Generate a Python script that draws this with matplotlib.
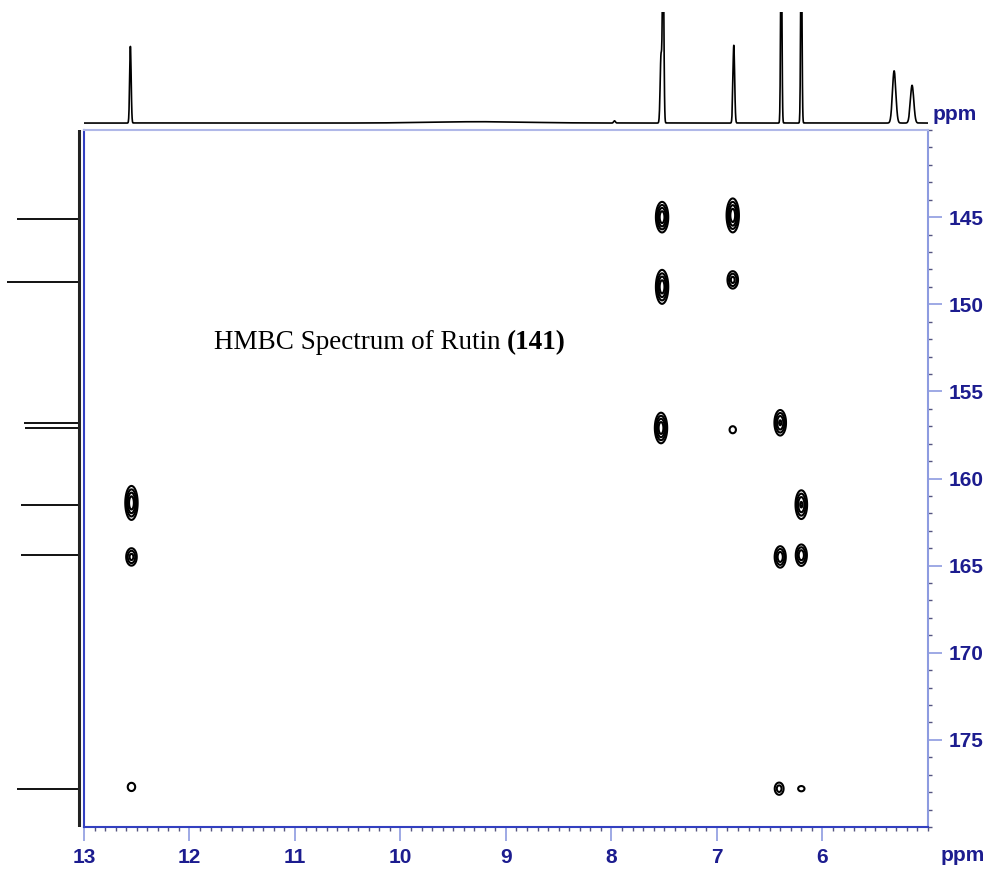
import matplotlib.pyplot as plt
import numpy as np

# 1H projection (top): peak position (ppm), height, half width
h1_pos = [12.56, 9.25, 7.97, 7.51, 7.53, 6.84, 6.39, 6.20, 5.32, 5.15]
h1_amp = [0.69, 0.012, 0.02, 1.6, 0.6, 0.70, 1.8, 1.8, 0.47, 0.34]
h1_wid = [0.007, 0.45, 0.008, 0.007, 0.008, 0.008, 0.006, 0.006, 0.016, 0.016]

# 13C projection (left): peak position (ppm), height
c13_pos = [145.1, 148.7, 156.8, 157.1, 161.5, 164.4, 177.8]
c13_amp = [0.78, 0.91, 0.70, 0.68, 0.73, 0.73, 0.78]

# HMBC cross peaks: 1H ppm, 13C ppm, intensity, spread along 13C
cross_h = [7.52, 6.85, 7.52, 6.85, 7.53, 6.85, 6.40, 6.20, 6.40, 6.20,
           12.55, 12.55, 12.55, 6.41, 6.20]
cross_c = [145.0, 144.9, 149.0, 148.6, 157.1, 157.2, 156.8, 161.5, 164.5, 164.4,
           161.4, 164.5, 177.7, 177.8, 177.8]
cross_i = [1.0, 1.0, 1.0, 0.6, 1.0, 0.25, 0.8, 0.8, 0.7, 0.7,
           1.0, 0.6, 0.3, 0.4, 0.25]
cross_s = [0.45, 0.5, 0.5, 0.3, 0.45, 0.2, 0.4, 0.45, 0.35, 0.35,
           0.5, 0.3, 0.2, 0.25, 0.15]

x_ticks = [13, 12, 11, 10, 9, 8, 7, 6]
y_ticks = [145, 150, 155, 160, 165, 170, 175]

navy = '#1c1c8f'
blue = '#3340c0'
light = '#8d9be0'

fig = plt.figure(figsize=(9.94, 8.71), dpi=100)
ax = fig.add_axes([0.0845, 0.0505, 0.849, 0.8002])
top = fig.add_axes([0.0845, 0.8507, 0.849, 0.1355], sharex=ax)
side = fig.add_axes([0.0, 0.0505, 0.0845, 0.8002], sharey=ax)

# contour map
hx = np.linspace(5, 13, 1601)
cy = np.linspace(140, 180, 801)
HX, CY = np.meshgrid(hx, cy)
Z = np.zeros_like(HX)
for h, c, a, s in zip(cross_h, cross_c, cross_i, cross_s):
    Z += a * np.exp(-((HX - h) / 0.03) ** 2 / 2 - ((CY - c) / s) ** 2 / 2)
ax.contour(HX, CY, Z, levels=[0.15, 0.3, 0.5, 0.75], colors='black', linewidths=1.5)

ax.set_xlim(13, 5)
ax.set_ylim(180, 140)
ax.yaxis.tick_right()
ax.set_xticks(x_ticks)
ax.set_yticks(y_ticks)
ax.set_xticks(np.arange(5, 13.01, 0.1), minor=True)
ax.set_yticks(np.arange(140, 180.1, 1), minor=True)
ax.tick_params(which='major', length=10, width=1.2, color=light, pad=5)
ax.tick_params(which='minor', length=3, width=1, color='#555580')
for lab in ax.get_xticklabels() + ax.get_yticklabels():
    lab.set_fontfamily('Liberation Sans')
    lab.set_fontweight('bold')
    lab.set_fontsize(15)
    lab.set_color(navy)
ax.spines['bottom'].set_color(blue)
ax.spines['left'].set_color(blue)
ax.spines['right'].set_color(light)
ax.spines['top'].set_color('#b0b8e8')
for sp in ax.spines.values():
    sp.set_linewidth(1.5)

t1 = ax.text(11.77, 152.2, 'HMBC Spectrum of Rutin ', fontsize=19.5,
             family='Liberation Serif', va='center', ha='left')
ax.annotate('(141)', xy=(1, 0.5), xycoords=t1, fontsize=19.5,
            family='Liberation Serif', fontweight='bold', va='center', ha='left')

# 1H projection
xs = np.linspace(5, 13, 16001)
spec = np.zeros_like(xs)
for p, a, w in zip(h1_pos, h1_amp, h1_wid):
    spec += a * np.exp(-((xs - p) / w) ** 2 / 2)
top.plot(xs, spec, color='black', lw=1.2)
top.set_ylim(-0.063, 1.0)
top.axis('off')

# 13C projection, drawn as sticks from the baseline
side.hlines(c13_pos, 0, c13_amp, color='#111111', lw=1.4)
side.plot([0, 0], [140, 180], color='#222222', lw=2.2)
side.set_xlim(1.0, -0.063)
side.axis('off')

fig.text(955 / 994, 1 - 115 / 871, 'ppm', color=navy, fontsize=15,
         family='Liberation Sans', fontweight='bold', ha='center', va='center')
fig.text(963 / 994, 1 - 855 / 871, 'ppm', color=navy, fontsize=15,
         family='Liberation Sans', fontweight='bold', ha='center', va='center')

fig.savefig('out.png', dpi=100)
